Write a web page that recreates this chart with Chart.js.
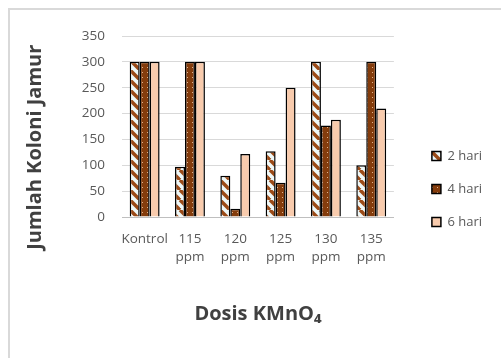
<!DOCTYPE html>
<html lang="id">
<head>
<meta charset="UTF-8">
<title>Jumlah Koloni Jamur</title>
<script src="https://cdn.jsdelivr.net/npm/chart.js"></script>
<style>
  html, body { margin: 0; padding: 0; background: #fff; }
  #wrap { width: 501px; height: 358px; }
</style>
</head>
<body>
<div id="wrap"><canvas id="koloniChart" width="501" height="358"></canvas></div>
<script>
// data
const dosis = ['Kontrol', ['115', 'ppm'], ['120', 'ppm'], ['125', 'ppm'], ['130', 'ppm'], ['135', 'ppm']];
const hari2 = [300, 97, 80, 127, 300, 100];
const hari4 = [300, 300, 16, 66, 177, 300];
const hari6 = [300, 300, 122, 250, 188, 210];

// pola isian seperti di Excel
function stripes() {
  const c = document.createElement('canvas');
  c.width = 10; c.height = 10;
  const g = c.getContext('2d');
  g.fillStyle = '#eef8f8';
  g.fillRect(0, 0, 10, 10);
  g.strokeStyle = '#9b4a17';
  g.lineWidth = 3.5;
  for (const o of [-10, 0, 10]) {
    g.beginPath(); g.moveTo(o, 0); g.lineTo(o + 10, 10); g.stroke();
  }
  return g.createPattern(c, 'repeat');
}
function dots() {
  const c = document.createElement('canvas');
  c.width = 5; c.height = 5;
  const g = c.getContext('2d');
  g.fillStyle = '#843c0c';
  g.fillRect(0, 0, 5, 5);
  g.fillStyle = '#e2b48c';
  g.fillRect(2, 2, 1, 1);
  return g.createPattern(c, 'repeat');
}

const frame = {
  id: 'frame',
  beforeDraw(chart) {
    const ctx = chart.ctx;
    ctx.save();
    ctx.strokeStyle = '#d9d9d9';
    ctx.lineWidth = 2;
    ctx.strokeRect(9, 9, 600, 600);
    ctx.restore();
  }
};
// geser legenda sedikit, seperti posisi di Excel
const legendNudge = {
  id: 'legendNudge',
  afterLayout(chart) {
    const lg = chart.legend;
    lg.left += 18; lg.right += 18;
    lg.top += 2; lg.bottom += 2;
  }
};

const ctx = document.getElementById('koloniChart').getContext('2d');
new Chart(ctx, {
  type: 'bar',
  data: {
    labels: dosis,
    datasets: [
      { label: '2 hari', data: hari2, backgroundColor: stripes(), borderColor: '#000', borderWidth: 1.5 },
      { label: '4 hari', data: hari4, backgroundColor: dots(), borderColor: '#000', borderWidth: 1.5 },
      { label: '6 hari', data: hari6, backgroundColor: '#f8cbad', borderColor: '#000', borderWidth: 1.5 }
    ]
  },
  options: {
    responsive: false,
    animation: false,
    layout: { padding: { left: 23, top: 36, bottom: 20, right: 27 } },
    datasets: { bar: { categoryPercentage: 0.66, barPercentage: 1.0 } },
    scales: {
      x: {
        grid: { display: false },
        border: { color: '#bfbfbf', width: 1 },
        ticks: { color: '#595959', font: { family: 'Open Sans', size: 13.5, lineHeight: 1.35 }, padding: 5, maxRotation: 0, autoSkip: false },
        title: { display: true, text: 'Dosis KMnO₄', color: '#404040', font: { family: 'Open Sans', size: 20, weight: 'bold' }, padding: { top: 0, bottom: 12 } },
        afterFit(scale) { scale.height = 121; }
      },
      y: {
        min: 0, max: 350,
        ticks: { stepSize: 50, color: '#595959', font: { family: 'Open Sans', size: 13.5 }, padding: 17 },
        grid: { color: '#d9d9d9', drawTicks: false },
        border: { display: false },
        // spasi di akhir menurunkan judul agar sejajar dengan gambar acuan
        title: { display: true, text: 'Jumlah Koloni Jamur\u00a0\u00a0\u00a0\u00a0\u00a0\u00a0\u00a0\u00a0', color: '#404040', font: { family: 'Open Sans', size: 20, weight: 'bold' }, padding: { top: 0, bottom: 10 } },
        afterFit(scale) { scale.width = 99; }
      }
    },
    plugins: {
      legend: {
        position: 'right',
        labels: { color: '#595959', font: { family: 'Open Sans', size: 13 }, boxWidth: 9, boxHeight: 9, padding: 20 }
      },
      tooltip: { enabled: false }
    }
  },
  plugins: [frame, legendNudge]
});
</script>
</body>
</html>
